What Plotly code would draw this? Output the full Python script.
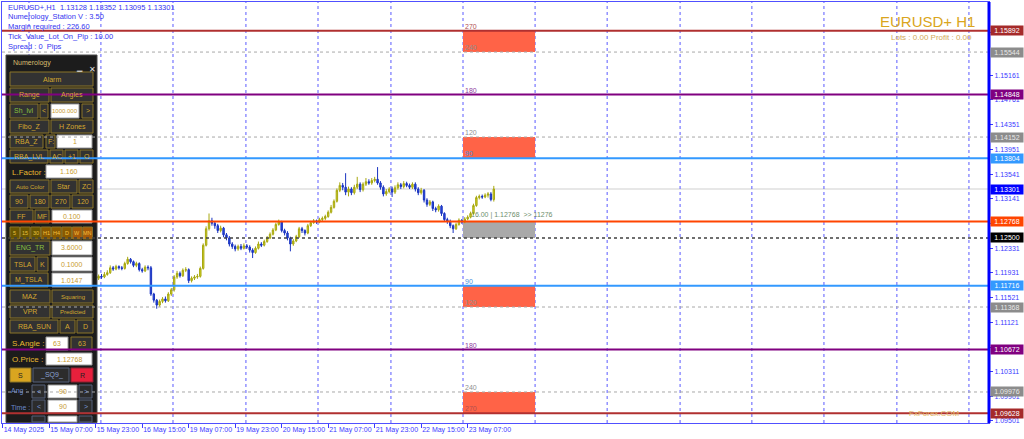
import plotly.graph_objects as go

# ---------------- data ----------------
BARS = list(range(32, 170))
OPENS = [1.1180,1.1184,1.1187,1.1186,1.1190,1.1193,1.1201,1.1199,1.1203,1.1201,
1.1200,1.1208,1.1215,1.1211,1.1205,1.1208,1.1198,1.1196,1.1202,1.1201,
1.1158,1.1148,1.1140,1.1146,1.1150,1.1147,1.1158,1.1165,1.1186,1.1192,
1.1188,1.1197,1.1198,1.1180,1.1184,1.1186,1.1187,1.1200,1.1238,1.1265,
1.1278,1.1274,1.1270,1.1262,1.1266,1.1255,1.1250,1.1240,1.1236,1.1232,
1.1236,1.1233,1.1237,1.1235,1.1230,1.1226,1.1233,1.1240,1.1238,1.1244,
1.1250,1.1256,1.1263,1.1272,1.1276,1.1262,1.1258,1.1250,1.1240,1.1245,
1.1252,1.1265,1.1262,1.1258,1.1270,1.1275,1.1278,1.1276,1.1280,1.1282,
1.1285,1.1292,1.1300,1.1310,1.1328,1.1336,1.1333,1.1325,1.1330,1.1324,
1.1333,1.1338,1.1329,1.1338,1.1342,1.1340,1.1344,1.1346,1.1340,1.1333,
1.1322,1.1326,1.1330,1.1325,1.1332,1.1337,1.1334,1.1339,1.1336,1.1333,
1.1338,1.1330,1.1324,1.1328,1.1312,1.1305,1.1309,1.1298,1.1296,1.1302,
1.1290,1.1280,1.1277,1.1270,1.1265,1.1272,1.1279,1.1276,1.1281,1.1284,
1.1290,1.1303,1.1316,1.1318,1.1317,1.1320,1.1322,1.13128]
CLOSES = [1.1184,1.1187,1.1186,1.1190,1.1193,1.1201,1.1199,1.1203,1.1201,1.1200,
1.1208,1.1215,1.1211,1.1205,1.1208,1.1198,1.1196,1.1202,1.1201,1.1158,
1.1148,1.1140,1.1146,1.1150,1.1147,1.1158,1.1165,1.1186,1.1192,1.1188,
1.1197,1.1198,1.1180,1.1184,1.1186,1.1187,1.1200,1.1238,1.1265,1.1278,
1.1274,1.1270,1.1262,1.1266,1.1255,1.1250,1.1240,1.1236,1.1232,1.1236,
1.1233,1.1237,1.1235,1.1230,1.1226,1.1233,1.1240,1.1238,1.1244,1.1250,
1.1256,1.1263,1.1272,1.1276,1.1262,1.1258,1.1250,1.1240,1.1245,1.1252,
1.1265,1.1262,1.1258,1.1270,1.1275,1.1278,1.1276,1.1280,1.1282,1.1285,
1.1292,1.1300,1.1310,1.1328,1.1336,1.1333,1.1325,1.1330,1.1324,1.1333,
1.1338,1.1329,1.1338,1.1342,1.1340,1.1344,1.1346,1.1340,1.1333,1.1322,
1.1326,1.1330,1.1325,1.1332,1.1337,1.1334,1.1339,1.1336,1.1333,1.1338,
1.1330,1.1324,1.1328,1.1312,1.1305,1.1309,1.1298,1.1296,1.1302,1.1290,
1.1280,1.1277,1.1270,1.1265,1.1272,1.1279,1.1276,1.1281,1.1284,1.1290,
1.1303,1.1316,1.1318,1.1317,1.1320,1.1322,1.1313,1.13301]
HIGHS = [1.1188,1.1190,1.1191,1.1194,1.1197,1.1205,1.1204,1.1206,1.1205,1.1204,
1.1211,1.1219,1.1217,1.1213,1.1211,1.1210,1.1201,1.1205,1.1205,1.1204,
1.1160,1.1150,1.1149,1.1153,1.1154,1.1161,1.1168,1.1189,1.1196,1.1195,
1.1200,1.1202,1.1200,1.1187,1.1189,1.1191,1.1203,1.1241,1.1269,1.1290,
1.1283,1.1277,1.1273,1.1270,1.1268,1.1258,1.1253,1.1243,1.1239,1.1239,
1.1240,1.1241,1.1240,1.1238,1.1233,1.1236,1.1244,1.1243,1.1247,1.1253,
1.1259,1.1266,1.1275,1.1280,1.1278,1.1265,1.1261,1.1252,1.1248,1.1255,
1.1268,1.1268,1.1264,1.1273,1.1278,1.1281,1.1280,1.1283,1.1285,1.1288,
1.1295,1.1304,1.1313,1.1331,1.1341,1.1340,1.1356,1.1334,1.1333,1.1337,
1.1350,1.1341,1.1341,1.1348,1.1346,1.1348,1.1350,1.1366,1.1343,1.1336,
1.1330,1.1333,1.1334,1.1336,1.1341,1.1340,1.1343,1.1342,1.1339,1.1341,
1.1341,1.1333,1.1332,1.1330,1.1315,1.1312,1.1311,1.1301,1.1305,1.1304,
1.1292,1.1283,1.1280,1.1272,1.1275,1.1282,1.1281,1.1284,1.1287,1.1293,
1.1306,1.1319,1.1321,1.1321,1.1323,1.1325,1.1325,1.13352]
LOWS = [1.1177,1.1181,1.1183,1.1184,1.1188,1.1191,1.1196,1.1197,1.1198,1.1197,
1.1198,1.1206,1.1208,1.1202,1.1202,1.1195,1.1193,1.1194,1.1197,1.1155,
1.1144,1.1134,1.1137,1.1143,1.1144,1.1145,1.1155,1.1162,1.1183,1.1185,
1.1186,1.1194,1.1176,1.1177,1.1181,1.1183,1.1185,1.1198,1.1236,1.1262,
1.1270,1.1265,1.1258,1.1259,1.1251,1.1246,1.1236,1.1232,1.1228,1.1229,
1.1230,1.1231,1.1232,1.1226,1.1217,1.1224,1.1231,1.1235,1.1236,1.1242,
1.1248,1.1254,1.1261,1.1270,1.1259,1.1254,1.1246,1.1228,1.1237,1.1243,
1.1250,1.1258,1.1254,1.1256,1.1268,1.1273,1.1273,1.1274,1.1277,1.1279,
1.1283,1.1290,1.1298,1.1308,1.1325,1.1328,1.1320,1.1318,1.1320,1.1321,
1.1330,1.1325,1.1326,1.1335,1.1337,1.1337,1.1341,1.1337,1.1329,1.1318,
1.1319,1.1323,1.1317,1.1322,1.1329,1.1330,1.1331,1.1333,1.1330,1.1330,
1.1326,1.1320,1.1321,1.1308,1.1301,1.1302,1.1294,1.1292,1.1293,1.1286,
1.1276,1.1273,1.1266,1.1258,1.1263,1.1270,1.1273,1.1274,1.1279,1.1282,
1.1288,1.1301,1.1313,1.1314,1.1315,1.1316,1.1310,1.13095]

X_TICK_BARS = [0, 16, 32, 48, 64, 80, 96, 112, 128, 144, 160]
X_TICK_LABELS = ["14 May 2025", "15 May 07:00", "15 May 23:00", "16 May 15:00",
                 "19 May 07:00", "19 May 23:00", "20 May 15:00", "21 May 07:00",
                 "21 May 23:00", "22 May 15:00", "23 May 07:00"]
Y_TICKS = [1.15871, 1.15161, 1.14761, 1.14351, 1.13951, 1.13541, 1.13141, 1.12731,
           1.12331, 1.11931, 1.11521, 1.11121, 1.10711, 1.10311, 1.09901, 1.09501]
GRID_BARS = [9.05, 33.8, 58.6, 83.7, 108.5, 133.6, 158.4, 183.2, 208.0, 233.1,
             257.8, 282.6, 307.7, 332.5]

LEVELS = [1.15892, 1.15544, 1.14848, 1.14152, 1.13804,
          1.11716, 1.11368, 1.10672, 1.09976, 1.09628]
LEVEL_ANGLES = [270, 240, 180, 120, 90, 90, 120, 180, 240, 270]
ORIGIN_PRICE = 1.12768
SQ_PRICE = 1.12500
BID_PRICE = 1.13301
ZONE_START_BAR = 158.4
ZONE_END_BAR = 183.2
SQ_INFO = "16.00 | 1.12768  >> 11276"

INFO_LINES = ["EURUSD+,H1  1.13128 1.13352 1.13095 1.13301",
              "Numerology_Station V : 3.50",
              "Margin required : 226.60",
              "Tick_Value_Lot_On_Pip : 10.00",
              "Spread : 0  Pips"]

# ---------------- layout geometry ----------------
W, H = 1024, 439
ML, MR, MT, MB = 2, 35, 2, 16
PW, PH = W - ML - MR, H - MT - MB
X_RANGE = [-0.24, 339.4]
Y_RANGE = [1.09468, 1.16364]


def px(x):
    return (x - ML) / PW


def py(y):
    return (H - MB - y) / PH


FONT = "Liberation Sans"
AXBLUE = "#3a3aff"

ANGLE_STYLE = {
    270: dict(color="#b03030", width=2, dash="solid", label="#a52a2a", tc="#b05050"),
    240: dict(color="#a8a8a8", width=1, dash="dot", label="#8c8c8c", tc="#909090"),
    180: dict(color="#800080", width=2, dash="solid", label="#800080", tc="#9040a0"),
    120: dict(color="#a8a8a8", width=1, dash="dot", label="#8c8c8c", tc="#909090"),
    90: dict(color="#3399ff", width=2, dash="solid", label="#3399ff", tc="#4a90e0"),
}

fig = go.Figure()
fig.add_trace(go.Candlestick(
    x=BARS, open=OPENS, high=HIGHS, low=LOWS, close=CLOSES,
    increasing=dict(line=dict(color="#a8a810", width=1), fillcolor="#d4d428"),
    decreasing=dict(line=dict(color="#1a34c0", width=1), fillcolor="#2a4ae0"),
    whiskerwidth=0, showlegend=False, hoverinfo="skip"))

shapes = []
annotations = []

# zones (below candles)
for a, b in [(0, 1), (3, 4), (5, 6), (8, 9)]:
    shapes.append(dict(type="rect", xref="x", yref="y", x0=ZONE_START_BAR, x1=ZONE_END_BAR,
                       y0=LEVELS[b], y1=LEVELS[a], fillcolor="#ff6347",
                       line=dict(width=0), layer="below"))
shapes.append(dict(type="rect", xref="x", yref="y", x0=ZONE_START_BAR, x1=ZONE_END_BAR,
                   y0=SQ_PRICE, y1=ORIGIN_PRICE, fillcolor="#a9a9a9",
                   line=dict(width=0), layer="below"))
# bid line
shapes.append(dict(type="line", xref="paper", yref="y", x0=0, x1=1, y0=BID_PRICE, y1=BID_PRICE,
                   line=dict(color="#cfcfcf", width=1), layer="below"))
# vertical grid
for g in GRID_BARS:
    shapes.append(dict(type="line", xref="x", yref="paper", x0=g, x1=g, y0=0, y1=1,
                       line=dict(color="#5a5aff", width=1, dash="dot"), layer="below"))

# ---------------- panel ----------------
PANEL_BG = "#1c1c1c"
BTN = dict(fill="#323232", border="#8a7428", text="#d4a830")
STY = {
    "btn": BTN,
    "green": dict(fill="#323232", border="#8a7428", text="#88c040"),
    "white": dict(fill="#ffffff", border="#9a9a9a", text="#c89a30"),
    "arrow": dict(fill="#2c2c2c", border="#55607a", text="#7a98d8"),
    "sq9": dict(fill="#2c2c2c", border="#55607a", text="#8aa0d0"),
    "gold": dict(fill="#d9a520", border="#8a7428", text="#222222"),
    "red": dict(fill="#e8203c", border="#8a2030", text="#222222"),
    "tf1": dict(fill="#6b5600", border="#8a7428", text="#e8c040"),
    "tf2": dict(fill="#8a5a00", border="#8a7428", text="#f0c040"),
    "tf3": dict(fill="#a65a08", border="#8a7428", text="#f0c040"),
}

shapes.append(dict(type="rect", xref="paper", yref="paper", x0=px(6), x1=px(97), y0=py(422.5),
                   y1=py(55), fillcolor=PANEL_BG, line=dict(color="#4a4a4a", width=1), layer="above"))

buttons = [
    ("Alarm", 10, 72, 93, 86, "btn"),
    ("Range", 10, 88, 49, 102, "btn"), ("Angles", 51, 88, 93, 102, "btn"),
    ("Sh_lvl", 10, 104, 38, 118, "green"), ("<", 40, 104, 48, 118, "btn"),
    ("1000.000", 51, 104, 79, 118, "white"), (">", 82, 104, 93, 118, "btn"),
    ("Fibo_Z", 10, 120, 49, 133, "btn"), ("H Zones", 51, 120, 93, 133, "btn"),
    ("RBA_Z", 10, 135, 43, 148, "btn"), ("F:", 46, 135, 55, 148, "btn"),
    ("1", 57, 135, 92, 148, "white"),
    ("RBA_LVL", 10, 150, 48, 163, "btn"), ("AC", 50, 150, 63, 163, "btn"),
    ("+1", 65, 150, 78, 163, "btn"), ("O", 80, 150, 93, 163, "btn"),
    ("1.160", 46, 165, 92, 178, "white"),
    ("Auto Color", 10, 180, 49, 193, "btn"), ("Star", 51, 180, 77, 193, "btn"),
    ("ZC", 79, 180, 93, 193, "btn"),
    ("90", 10, 195, 28, 208, "btn"), ("180", 30, 195, 49, 208, "btn"),
    ("270", 51, 195, 70, 208, "btn"), ("120", 72, 195, 93, 208, "btn"),
    ("FF", 10, 210, 33, 223, "btn"), ("MF", 35, 210, 49, 223, "btn"),
    ("0.100", 52, 210, 92, 223, "white"),
    ("ENG_TR", 10, 241, 50, 255, "green"), ("3.6000", 52, 241, 92, 255, "white"),
    ("TSLA", 10, 257, 35, 271, "btn"), ("K", 37, 257, 48, 271, "btn"),
    ("0.1000", 52, 257, 92, 271, "white"),
    ("M_TSLA", 10, 273, 48, 287, "btn"), ("1.0147", 52, 273, 92, 287, "white"),
    ("MAZ", 10, 290, 50, 303, "btn"), ("Squaring", 52, 290, 93, 303, "btn"),
    ("VPR", 10, 305, 50, 318, "btn"), ("Predicted", 52, 305, 93, 318, "btn"),
    ("RBA_SUN", 10, 320, 58, 333, "btn"), ("A", 60, 320, 75, 333, "btn"),
    ("D", 77, 320, 93, 333, "btn"),
    ("63", 46, 337, 68, 350, "white"), ("63", 71, 337, 92, 350, "btn"),
    ("1.12768", 46, 353, 92, 365, "white"),
    ("S", 10, 368, 31, 382, "gold"), ("_SQ9_", 33, 368, 69, 382, "sq9"),
    ("R", 71, 368, 93, 382, "red"),
    ("<", 32, 385, 45, 398, "arrow"), ("90", 48, 385, 77, 398, "white"), (">", 79, 385, 92, 398, "arrow"),
    ("<", 32, 400, 45, 413, "arrow"), ("90", 48, 400, 77, 413, "white"), (">", 79, 400, 92, 413, "arrow"),
    ("<", 32, 416, 45, 422, "arrow"), ("10", 48, 416, 77, 422, "white"), (">", 79, 416, 92, 422, "arrow"),
]
tf_labels = ["5", "15", "30", "H1", "H4", "D", "W", "MN"]
tf_styles = ["tf1", "tf1", "tf1", "tf2", "tf2", "tf2", "tf3", "tf3"]
for k, (lab, st) in enumerate(zip(tf_labels, tf_styles)):
    x0 = 10 + k * 10.4
    buttons.append((lab, x0, 227, x0 + 9.6, 239, st))

for text, x0, y0, x1, y1, st in buttons:
    s = STY[st]
    shapes.append(dict(type="rect", xref="paper", yref="paper", x0=px(x0), x1=px(x1),
                       y0=py(y1), y1=py(y0), fillcolor=s["fill"],
                       line=dict(color=s["border"], width=1), layer="above"))
    fs = 6 if len(text) > 7 else 7
    if st.startswith("tf"):
        fs = 5.5
    if y1 - y0 > 8:
        annotations.append(dict(xref="paper", yref="paper", x=px((x0 + x1) / 2),
                                y=py((y0 + y1) / 2),
                                text=text, showarrow=False, xanchor="center", yanchor="middle",
                                font=dict(family=FONT, size=fs, color=s["text"])))

labels = [("L.Factor :", 10, 172, "#e8b830", 8), ("S.Angle :", 10, 343, "#e8b830", 8),
          ("O.Price :", 10, 359, "#e8b830", 8), ("Ang :", 9, 391, "#6a88c8", 7),
          ("Time :", 9, 407, "#6a88c8", 7)]
for text, x, y, c, fs in labels:
    annotations.append(dict(xref="paper", yref="paper", x=px(x), y=py(y), text=text,
                            showarrow=False, xanchor="left", yanchor="middle",
                            font=dict(family=FONT, size=fs, color=c)))
annotations.append(dict(xref="paper", yref="paper", x=px(11), y=py(63), text="Numerology",
                        showarrow=False, xanchor="left", yanchor="middle",
                        font=dict(family=FONT, size=7, color="#d8bc70")))
annotations.append(dict(xref="paper", yref="paper", x=px(74), y=py(62), text="▁",
                        showarrow=False, font=dict(family=FONT, size=7, color="#e0e0e0")))
annotations.append(dict(xref="paper", yref="paper", x=px(87), y=py(63), text="✕",
                        showarrow=False, font=dict(family=FONT, size=8, color="#e0e0e0")))

# ---------------- level lines (above panel) ----------------
for lv, ang in zip(LEVELS, LEVEL_ANGLES):
    s = ANGLE_STYLE[ang]
    shapes.append(dict(type="line", xref="paper", yref="y", x0=0, x1=1, y0=lv, y1=lv,
                       line=dict(color=s["color"], width=s["width"], dash=s["dash"]),
                       layer="above"))
    annotations.append(dict(xref="x", yref="y", x=ZONE_START_BAR, y=lv, text=str(ang),
                            showarrow=False, xanchor="left", yanchor="bottom", yshift=-1,
                            font=dict(family=FONT, size=7, color=s["tc"])))
    annotations.append(dict(xref="paper", yref="y", x=1, y=lv, text=f"{lv:.5f}",
                            showarrow=False, xanchor="left", yanchor="middle", xshift=1,
                            width=32, height=9, bgcolor=s["label"], borderpad=0,
                            font=dict(family=FONT, size=7,
                                      color="#e8e8e8" if ang in (240, 120) else "#ffffff")))
shapes.append(dict(type="line", xref="paper", yref="y", x0=0, x1=1, y0=ORIGIN_PRICE, y1=ORIGIN_PRICE,
                   line=dict(color="#ff4500", width=2), layer="above"))
shapes.append(dict(type="line", xref="paper", yref="y", x0=0, x1=1, y0=SQ_PRICE, y1=SQ_PRICE,
                   line=dict(color="#404040", width=1.5, dash="dot"), layer="above"))
for lv, bg in [(ORIGIN_PRICE, "#ff4500"), (SQ_PRICE, "#000000"), (BID_PRICE, "#0000ff")]:
    annotations.append(dict(xref="paper", yref="y", x=1, y=lv, text=f"{lv:.5f}",
                            showarrow=False, xanchor="left", yanchor="middle", xshift=1,
                            width=32, height=9, bgcolor=bg, borderpad=0,
                            font=dict(family=FONT, size=7, color="#ffffff")))
annotations.append(dict(xref="x", yref="y", x=ZONE_START_BAR + 2, y=ORIGIN_PRICE, text=SQ_INFO,
                        showarrow=False, xanchor="left", yanchor="bottom", yshift=1,
                        font=dict(family=FONT, size=7, color="#6e8e6e")))

# thick right axis border
shapes.append(dict(type="line", xref="paper", yref="paper", x0=1, x1=1, y0=0, y1=1,
                   line=dict(color="#0000ff", width=3), layer="above"))

# ---------------- texts ----------------
for k, t in enumerate(INFO_LINES):
    annotations.append(dict(xref="paper", yref="paper", x=px(6), y=py(7 + k * 9.8), text=t,
                            showarrow=False, xanchor="left", yanchor="middle",
                            font=dict(family=FONT, size=7.5, color="#3434f0")))
annotations.append(dict(xref="paper", yref="paper", x=px(977), y=py(21), text="EURUSD+ H1",
                        showarrow=False, xanchor="right", yanchor="middle",
                        font=dict(family=FONT, size=15, color="#daa520")))
annotations.append(dict(xref="paper", yref="paper", x=px(974), y=py(37),
                        text="Lots : 0.00 Profit : 0.00", showarrow=False, xanchor="right",
                        yanchor="middle", font=dict(family=FONT, size=8, color="#d2aa58")))
annotations.append(dict(xref="paper", yref="paper", x=px(962), y=py(413), text="FxForex.COM",
                        showarrow=False, xanchor="right", yanchor="middle",
                        font=dict(family=FONT, size=8, color="#e0b860")))

fig.update_layout(
    width=W, height=H, margin=dict(l=ML, r=MR, t=MT, b=MB, autoexpand=False),
    paper_bgcolor="#ffffff", plot_bgcolor="#ffffff", showlegend=False,
    shapes=shapes, annotations=annotations,
    xaxis=dict(range=X_RANGE, tickmode="array", tickvals=X_TICK_BARS, ticktext=X_TICK_LABELS,
               ticks="outside", ticklen=4, tickcolor=AXBLUE, ticklabelposition="outside right",
               tickangle=0, automargin=False,
               tickfont=dict(family=FONT, size=7, color=AXBLUE), showgrid=False, zeroline=False,
               showline=True, linecolor="#5050ff", linewidth=1, mirror=True,
               rangeslider=dict(visible=False), fixedrange=True),
    yaxis=dict(range=Y_RANGE, side="right", tickmode="array", tickvals=Y_TICKS,
               ticktext=[f"{v:.5f}" for v in Y_TICKS], ticks="outside", ticklen=3,
               automargin=False,
               tickcolor=AXBLUE, tickfont=dict(family=FONT, size=7, color=AXBLUE),
               showgrid=False, zeroline=False, showline=True, linecolor="#5050ff",
               linewidth=1, mirror=True, fixedrange=True),
)

fig.write_html("out.html", config={"displayModeBar": False},
               post_script="document.body.style.margin='0';document.body.style.overflow='hidden';")
